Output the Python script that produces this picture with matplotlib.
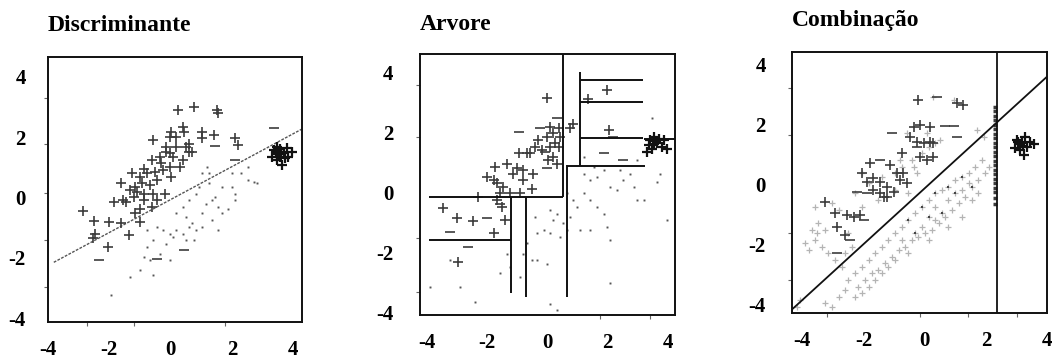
import matplotlib
matplotlib.use("Agg")
import matplotlib.pyplot as plt

# ---------------- data ----------------
titles = ["Discriminante", "Arvore", "Combinação"]
tick_vals = [-4, -2, 0, 2, 4]
tick_labels = ["-4", "-2", "0", "2", "4"]

# Panel 1: Discriminante
p1_plus_x = [-2.85, -2.49, -2.47, -2.00, -1.62, -1.36, -2.05, -2.53, -1.84, -1.46, -1.62, -1.25, -0.99,
             -1.15, -0.88, -0.67, -0.46, -0.62, -0.30, -0.24, -0.03, -0.56, -0.14, -0.03, 0.18, 0.39,
             0.23, 0.76, 1.51, 1.56, 1.03, 1.40, 1.03, 2.09, 2.20, 0.18, 0.50, 0.61, -0.14, -0.03,
             0.07, 0.39, 0.71, 0.61, 0.29, 0.02, -0.19, -0.46, -0.62, -0.88, -0.99, -1.15, -0.99,
             -0.56, -1.20, -1.09, -0.77, -0.51, -0.35, -0.88, -0.93, -1.57, -1.31, 0.45, 0.02]
p1_plus_y = [-0.44, -0.79, -1.20, -0.81, -0.84, -1.25, -1.64, -1.33, -0.14, -0.14, 0.49, 0.82, 0.69,
             0.35, 0.13, 0.41, 0.58, 1.24, 1.13, 0.91, 1.02, 1.90, 1.68, 2.02, 2.02, 2.35,
             2.90, 3.01, 2.90, 2.79, 2.18, 2.07, 1.96, 1.96, 1.74, 1.68, 1.68, 1.52, 1.52, 1.46,
             1.35, 1.24, 1.52, 1.79, 1.02, 0.69, 0.13, -0.09, -0.31, -0.09, -0.37, -0.53, -0.81,
             0.13, 0.02, 0.19, 0.80, 0.85, 1.35, 0.96, 0.47, -0.09, 0.24, 2.18, 2.18]
p1_clus_x = [3.37, 3.52, 3.68, 3.79, 3.58, 3.74, 3.47, 3.95, 3.63, 3.31, 3.47, 3.84, 3.50, 3.55, 3.60, 3.45]
p1_clus_y = [1.57, 1.52, 1.46, 1.63, 1.35, 1.30, 1.24, 1.52, 1.07, 1.35, 1.68, 1.35, 1.45, 1.60, 1.50, 1.50]
p1_minus_x = [1.45, -2.35, -0.46, 0.45, 3.37, 2.09]
p1_minus_y = [1.71, -2.08, -2.03, -1.75, 2.29, 1.24]
p1_dot_x = [1.03, 1.19, 0.92, 1.24, 1.45, 1.14, 0.82, 0.61, 0.39, 0.18, 0.50, 0.71, 1.03, 1.35, 1.56,
            1.88, 2.09, 1.99, 2.30, 2.52, 2.73, 1.67, 1.24, 1.03, 0.82, 0.61, 0.39, 0.18, -0.03,
            -0.24, -0.46, -0.77, -0.56, -0.77, -0.88, -0.67, -0.03, -0.35, 0.50, 0.76, -0.99, -1.31,
            -0.56, -1.94, -0.14, 0.07, 1.67, 2.09, 2.52, 2.83, 1.99, 1.56, 1.35]
p1_dot_y = [0.80, 1.02, 0.35, 0.47, 0.02, -0.20, 0.13, -0.09, -0.31, -0.53, -0.64, -0.86, -0.53, -0.75,
            -1.09, -0.37, -0.09, 0.35, 0.80, 1.02, 0.52, 0.35, 0.80, -0.97, -1.09, -0.97, -1.20,
            -1.09, -1.20, -1.09, -0.97, -1.09, -1.42, -1.64, -1.97, -2.08, -2.08, -1.86, -1.42,
            -1.42, -2.41, -2.64, -2.58, -3.24, -1.53, -1.31, -0.53, 0.13, 0.58, 0.47, 0.80, -0.31, -0.09]
p1_line_x = [-3.81, 4.28]
p1_line_y = [-2.15, 2.27]

# Panel 2: Arvore
p2_plus_x = [-0.02, 0.86, 0.75, 1.36, 1.97, 2.03, 0.09, 0.37, 0.20, 0.42, -0.02, -0.30, -0.41, -0.58,
             -0.19, 0.09, 0.25, 0.37, 0.20, 0.03, 0.31, -0.96, -0.69, -1.35, -1.02, -0.80, -0.47,
             -1.74, -2.02, -1.79, -1.68, -1.46, -1.57, -1.24, -0.91, -0.52, -0.80, -1.13, -3.46,
             -3.01, -2.46, -1.41, -1.79, -2.96, -1.52, -2.29, -1.68]
p2_plus_y = [3.15, 2.29, 2.13, 3.12, 3.40, 2.07, 2.18, 2.13, 1.96, 1.85, 1.85, 1.74, 1.52, 1.30,
             1.41, 1.52, 1.63, 1.52, 1.18, 1.07, 0.96, 1.30, 1.30, 0.96, 0.80, 0.74, 0.63,
             0.85, 0.52, 0.41, 0.30, 0.19, -0.03, -0.03, -0.03, 0.13, 0.41, 0.63, -0.53,
             -0.86, -0.94, -0.92, -1.36, -2.30, -0.48, -0.14, -0.25]
p2_clus_x = [3.41, 3.52, 3.63, 3.80, 3.47, 3.30, 3.85, 3.69, 3.96, 3.36, 3.55, 3.60]
p2_clus_y = [1.74, 1.85, 1.63, 1.52, 1.46, 1.35, 1.74, 1.79, 1.46, 1.57, 1.60, 1.70]
p2_minus_x = [0.31, -0.96, -0.24, -2.02, -3.23, -2.62, -1.57, 2.19, 1.86, 2.52, -0.02, -0.08]
p2_minus_y = [2.46, 2.02, 2.13, -0.86, -1.31, -1.81, -0.37, 1.85, 1.30, 1.07, 0.80, 1.35]
p2_dot_x = [1.20, 1.42, 1.64, 1.86, 2.08, 2.30, 2.52, 2.75, 2.86, 2.97, 3.19, 3.63, 1.20, 0.97, 0.75,
            0.53, 0.31, 0.09, 0.20, -0.13, 0.09, 0.42, -0.35, -0.35, -0.02, -0.80, -0.91, -1.35,
            -1.24, -1.57, -2.40, -2.90, -3.23, -3.90, 1.42, 1.64, 1.86, 1.97, 2.08, 1.09, 1.42,
            0.64, 0.86, 0.64, 1.20, 1.53, 2.41, 2.97, 3.47, 3.74, 3.96, 2.08, 0.09, 0.31, -0.52,
            -0.69, -0.41]
p2_dot_y = [0.63, 0.41, 0.52, 0.74, 0.19, 0.08, 0.41, 0.63, 0.19, -0.25, -0.25, 0.35, -0.03, -0.48,
            -0.81, -1.03, -0.70, -0.59, -0.92, -1.25, -1.36, -1.47, -1.36, -2.25, -2.36, -2.03,
            -2.80, -2.03, -2.47, -2.69, -3.63, -3.13, -2.25, -3.13, -0.25, -0.48, -0.70, -1.14,
            -1.58, -1.25, -1.25, -1.25, -0.25, -0.03, 1.18, 0.85, 0.74, 1.07, 2.46, 0.63, -0.92,
            -3.02, -3.69, -3.91, -2.25, -1.69, -0.81]
# tree partition segments (x0, x1, y0, y1)
p2_seg_x0 = [0.50, -3.93, -1.22, -3.93, -0.71, 0.64, 0.64, 1.08, 1.08, 1.08, 1.08, 3.20]
p2_seg_x1 = [0.50, 0.50, -1.22, -1.22, -0.71, 0.64, 3.24, 1.08, 3.17, 3.17, 3.17, 4.23]
p2_seg_y0 = [4.60, -0.14, -0.14, -1.58, -0.14, 0.91, 0.89, 0.89, 3.73, 2.99, 1.81, 1.78]
p2_seg_y1 = [-0.14, -0.14, -3.35, -1.58, -3.46, -3.46, 0.89, 4.00, 3.73, 2.99, 1.81, 1.78]

# Panel 3: Combinação
p3_plus_x = [-0.20, 1.06, 1.27, -0.36, -0.14, 0.19, -0.47, -0.25, -0.03, 0.19, 0.29, -0.74, -0.14,
             0.08, 0.29, -1.78, -1.12, -0.90, -0.69, -2.05, -1.88, -1.67, -1.45, -1.23, -1.01,
             -0.58, -1.67, -1.45, -1.23, -3.25, -2.92, -2.54, -2.32, -2.10, -2.86, -2.59, -0.80, -1.34]
p3_plus_y = [2.83, 2.72, 2.67, 1.94, 2.00, 1.94, 1.61, 1.44, 1.39, 1.44, 1.39, 1.06, 0.94,
             0.83, 0.94, 0.72, 0.67, 0.39, 0.39, 0.39, 0.11, 0.22, 0.11, -0.06, -0.22,
             0.06, -0.17, -0.28, -0.39, -0.56, -0.94, -1.00, -1.06, -1.00, -1.39, -1.67, 0.17, -0.39]
p3_minus_x = [0.40, 0.68, 1.06, -1.07, -0.25, -1.45, -1.88, -2.21, -2.43, -2.86, -1.99, 0.95]
p3_minus_y = [2.92, 1.97, 1.61, 1.74, 1.28, 0.83, -0.28, -0.22, -1.83, -2.28, -1.17, 1.97]
p3_clus_x = [3.02, 3.18, 3.34, 3.13, 2.96, 3.45, 3.56, 3.24, 3.29, 3.10, 3.20, 3.05]
p3_clus_y = [1.50, 1.39, 1.28, 1.17, 1.22, 1.44, 1.37, 1.00, 1.61, 1.35, 1.30, 1.42]
p3_stack_x = [2.29, 2.29, 2.29, 2.29, 2.29, 2.29, 2.29, 2.29, 2.29, 2.29, 2.29, 2.29, 2.29, 2.29,
              2.29, 2.29, 2.29, 2.29, 2.29, 2.29, 2.29, 2.29]
p3_stack_y = [2.60, 2.45, 2.30, 2.15, 2.00, 1.85, 1.70, 1.55, 1.40, 1.25, 1.10, 0.95, 0.80, 0.65,
              0.50, 0.35, 0.20, 0.05, -0.10, -0.25, -0.45, -0.65]
p3_gray_x = [1.87, 1.65, 1.44, 1.22, 1.00, 0.78, 0.56, 0.35, 0.13, -0.09, -0.31, -0.53, -0.74, -0.96,
             -1.18, -1.40, -1.61, -1.83, -2.05, -2.27, -2.49, -2.16, -1.94, -1.72, -1.51, -1.29,
             -1.07, -0.85, -0.63, -0.42, -0.20, 0.02, 0.24, 0.46, 0.67, 0.89, 1.11, 1.33, 1.54,
             1.76, 1.98, 2.09, 1.22, 0.78, 0.35, 0.13, -0.09, -0.31, 0.35, 0.56, 1.00, 1.44,
             -0.53, -0.96, -1.18, -1.40, -1.61, -1.83, -2.05, -2.27, -2.59, -2.81, -3.03, -3.25,
             -0.74, 0.13, 0.78, 1.22, 1.54, 1.76,
             -3.58, -3.36, -3.14, -2.92, -2.70, -3.79, -3.90, -2.59, -2.38, -3.25, -3.47, -2.49,
             -2.05, -1.51, -0.96, -0.53, -1.83, -1.40, -0.96, -0.74, -0.42, -0.09, 0.13, 0.35,
             -2.05, -2.27, -2.81, -3.03, -3.58, -3.68,
             -0.58, 0.08, 0.51, -0.80, -0.36, 1.71, 1.93, -0.25, 0.29, 0.95, -4.06, -4.17, -3.52]
p3_gray_y = [0.83, 0.61, 0.39, 0.28, 0.17, -0.06, -0.17, -0.28, -0.50, -0.72, -0.94, -1.17, -1.39,
             -1.61, -1.83, -2.06, -2.28, -2.50, -2.72, -2.94, -3.17, -3.39, -3.17, -2.94, -2.83,
             -2.61, -2.39, -2.17, -2.06, -1.83, -1.72, -1.61, -1.50, -1.28, -1.06, -0.83, -0.61,
             -0.39, -0.06, 0.17, 0.39, 0.61, -0.17, -0.50, -0.72, -1.06, -1.39, -1.61, -1.17,
             -0.94, -0.28, 0.06, -2.28, -2.50, -2.72, -2.94, -3.17, -3.39, -3.61, -3.72, -3.50,
             -3.72, -4.06, -3.94, -1.83, -1.83, -1.39, -1.06, -0.50, -0.28,
             -1.83, -2.06, -2.28, -2.50, -2.72, -2.17, -1.94, -2.28, -2.06, -1.50, -1.28, -1.61,
             -0.72, -0.50, -0.17, -0.28, 0.06, 0.28, 0.39, 0.61, 0.83, 1.06, 1.28, 1.39,
             0.39, -0.28, -0.83, -0.61, -0.72, -1.50,
             1.72, 1.72, 1.50, 0.83, 0.61, 1.83, 1.61, 0.39, 2.94, 2.83, -3.83, -4.06, -1.61]
p3_dark_x = [0.78, 0.35, -0.09, 1.22, 1.54, 0.56, -0.53, 1.00, 0.13, -0.31]
p3_dark_y = [-0.06, -0.28, -0.72, 0.28, -0.06, -0.94, -1.17, -0.28, -1.06, -1.61]
p3_diag_x = [-4.32, 4.00]
p3_diag_y = [-4.14, 3.61]
p3_vline_x = 2.36

# axis limits and odd tick marks per panel
xlims = [(-3.81, 4.28), (-4.23, 4.23), (-4.33, 4.00)]
ylims = [(-4.13, 4.66), (-4.07, 4.60), (-4.27, 4.43)]
minor_y = [[3.30, 1.77, 0.15, -1.42, -2.98], [3.57, 1.84, -1.51, -3.31], [3.23, 1.67, -1.60, -3.17]]
minor_x = [[-2.73, -1.20, 1.76], [1.75, 3.41], [-3.18, -0.14, 1.42, 3.03]]

# ---------------- figure ----------------
fig = plt.figure(figsize=(10.52, 3.64), dpi=100)
positions = [[0.0456, 0.1154, 0.2414, 0.7280],
             [0.3992, 0.1346, 0.2424, 0.7170],
             [0.7529, 0.1401, 0.2424, 0.7170]]
ypads = [16, 19, 19]
title_pads = [19, 17, 18.5]
serif = ["Liberation Serif", "DejaVu Serif"]
plus_kw = dict(marker="+", linestyle="none", color="#3c3c3c", markersize=7.5, markeredgewidth=1.2)
minus_kw = dict(marker="_", linestyle="none", color="#3c3c3c", markersize=7, markeredgewidth=1.2)
dot_kw = dict(marker="s", linestyle="none", color="#555555", markersize=1.4, markeredgewidth=0)
clus_kw = dict(marker="+", linestyle="none", color="#111111", markersize=7, markeredgewidth=1.6)

axes = []
for i in range(3):
    ax = fig.add_axes(positions[i])
    axes.append(ax)
    ax.set_xlim(*xlims[i])
    ax.set_ylim(*ylims[i])
    ax.set_xticks(tick_vals)
    ax.set_xticklabels(tick_labels)
    ax.set_yticks(tick_vals)
    ax.set_yticklabels(tick_labels)
    ax.set_xticks(minor_x[i], minor=True)
    ax.set_yticks(minor_y[i], minor=True)
    ax.tick_params(axis="both", which="major", length=0, labelsize=15)
    ax.tick_params(axis="x", which="major", pad=13)
    ax.tick_params(axis="y", which="major", pad=ypads[i])
    ax.tick_params(axis="both", which="minor", length=3, width=0.8, color="#666666")
    for lab in ax.get_xticklabels() + ax.get_yticklabels():
        lab.set_fontfamily(serif)
        lab.set_fontweight("bold")
    for s in ax.spines.values():
        s.set_linewidth(1.4)
        s.set_color("#111111")
    ax.set_title(titles[i], loc="left", fontsize=17, fontweight="bold",
                 family=serif, pad=title_pads[i])

# Panel 1
ax = axes[0]
ax.plot(p1_dot_x, p1_dot_y, **dot_kw)
ax.plot(p1_line_x, p1_line_y, color="#555555", linewidth=1.0, linestyle=(0, (2, 1)))
ax.plot(p1_plus_x, p1_plus_y, **plus_kw)
ax.plot(p1_minus_x, p1_minus_y, **minus_kw)
ax.plot(p1_clus_x, p1_clus_y, **clus_kw)

# Panel 2
ax = axes[1]
ax.plot(p2_dot_x, p2_dot_y, **dot_kw)
ax.plot(p2_plus_x, p2_plus_y, **plus_kw)
ax.plot(p2_minus_x, p2_minus_y, **minus_kw)
ax.plot(p2_clus_x, p2_clus_y, **clus_kw)
for x0, x1, y0, y1 in zip(p2_seg_x0, p2_seg_x1, p2_seg_y0, p2_seg_y1):
    ax.plot([x0, x1], [y0, y1], color="#111111", linewidth=1.4, solid_capstyle="butt")

# Panel 3
ax = axes[2]
ax.plot(p3_gray_x, p3_gray_y, marker="+", linestyle="none", color="#b4b4b4",
        markersize=5, markeredgewidth=0.9)
ax.plot(p3_dark_x, p3_dark_y, marker="s", linestyle="none", color="#444444",
        markersize=2, markeredgewidth=0)
ax.plot(p3_plus_x, p3_plus_y, **plus_kw)
ax.plot(p3_minus_x, p3_minus_y, **minus_kw)
ax.plot(p3_clus_x, p3_clus_y, **clus_kw)
ax.plot(p3_stack_x, p3_stack_y, marker="_", linestyle="none", color="#3a3a3a",
        markersize=2.5, markeredgewidth=2.5)
ax.plot(p3_diag_x, p3_diag_y, color="#111111", linewidth=1.3)
ax.axvline(p3_vline_x, color="#111111", linewidth=1.3)

fig.savefig("out.png", dpi=100)
